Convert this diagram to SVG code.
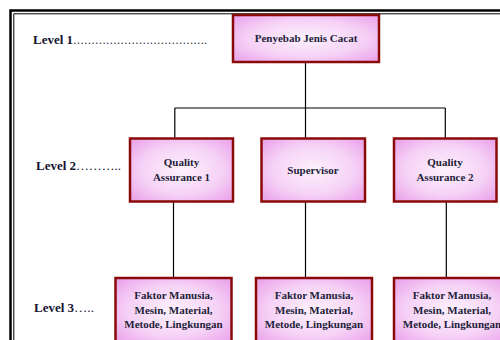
<svg xmlns="http://www.w3.org/2000/svg" width="500" height="340" viewBox="0 0 500 340">
<defs>
<radialGradient id="pink" cx="50%" cy="50%" r="65%">
<stop offset="0" stop-color="#FDF2FD"/>
<stop offset="0.6" stop-color="#F6D2F6"/>
<stop offset="1" stop-color="#EBA6EB"/>
</radialGradient>
</defs>
<style>
.box{fill:url(#pink);stroke:#8A0A0A;stroke-width:2.5}
.bt{font-family:"Liberation Serif","DejaVu Serif","Times New Roman",serif;font-weight:bold;font-size:11px;fill:#1E1E3A;text-anchor:middle}
.lv{font-family:"Liberation Serif","DejaVu Serif","Times New Roman",serif;font-weight:bold;font-size:13px;fill:#141430}
.dt{font-family:"Liberation Serif","DejaVu Serif","Times New Roman",serif;font-size:13px;fill:#141430}
.ln{stroke:#000;stroke-width:1.2;fill:none}
</style>
<g id="frame">
<path d="M10.5 340 V10.5 H500" stroke="#000" stroke-width="2.5" fill="none"/>
<path d="M13.8 340 V13.8 H500" stroke="#000" stroke-width="1" fill="none"/>
</g>
<g id="labels">
<text class="lv" x="33" y="44">Level 1</text>
<text class="dt" x="73" y="44" textLength="134" lengthAdjust="spacingAndGlyphs">……………………………….</text>
<text class="lv" x="36" y="170">Level 2</text>
<text class="dt" x="76" y="170" textLength="45" lengthAdjust="spacingAndGlyphs">………..</text>
<text class="lv" x="34" y="312">Level 3</text>
<text class="dt" x="74" y="312" textLength="20" lengthAdjust="spacingAndGlyphs">…..</text>
</g>
<g id="connectors">
<path class="ln" d="M305.5 62 V108 M174.8 108 H445.3 M174.8 108 V138.5 M305.5 108 V138.5 M445.3 108 V138.5"/>
<path class="ln" d="M173.5 201.5 V278 M305.5 201.5 V278 M446.3 201.5 V278"/>
</g>
<g id="n1">
<rect class="box" x="233" y="15" width="146" height="47"/>
<text class="bt" x="306" y="42">Penyebab Jenis Cacat</text>
</g>
<g id="n2a">
<rect class="box" x="130" y="138.5" width="103" height="63"/>
<text class="bt" x="181.5" y="166">Quality</text>
<text class="bt" x="181.5" y="181">Assurance 1</text>
</g>
<g id="n2b">
<rect class="box" x="261.5" y="138.5" width="103.5" height="63"/>
<text class="bt" x="313" y="174">Supervisor</text>
</g>
<g id="n2c">
<rect class="box" x="394" y="138.5" width="102.5" height="63"/>
<text class="bt" x="445" y="166">Quality</text>
<text class="bt" x="445" y="181">Assurance 2</text>
</g>
<g id="n3a">
<rect class="box" x="115.5" y="278" width="116" height="66"/>
<text class="bt" x="173.5" y="299">Faktor Manusia,</text>
<text class="bt" x="173.5" y="314">Mesin, Material,</text>
<text class="bt" x="173.5" y="328">Metode, Lingkungan</text>
</g>
<g id="n3b">
<rect class="box" x="256" y="278" width="116" height="66"/>
<text class="bt" x="314" y="299">Faktor Manusia,</text>
<text class="bt" x="314" y="314">Mesin, Material,</text>
<text class="bt" x="314" y="328">Metode, Lingkungan</text>
</g>
<g id="n3c">
<rect class="box" x="394" y="278" width="116" height="66"/>
<text class="bt" x="452" y="299">Faktor Manusia,</text>
<text class="bt" x="452" y="314">Mesin, Material,</text>
<text class="bt" x="452" y="328">Metode, Lingkungan</text>
</g>
</svg>
